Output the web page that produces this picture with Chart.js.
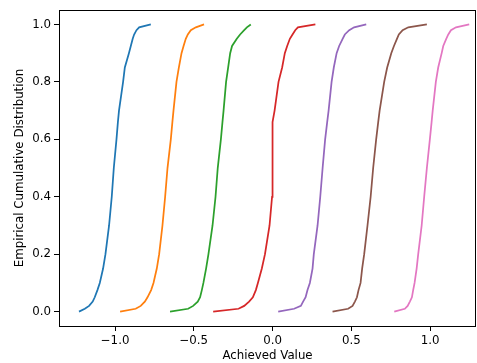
<!DOCTYPE html>
<html>
<head>
<meta charset="utf-8">
<script src="https://cdn.jsdelivr.net/npm/chart.js@4/dist/chart.umd.min.js"></script>
<style>
  html, body { margin: 0; padding: 0; background: #fff; }
  #wrap { width: 477px; height: 363px; }
</style>
</head>
<body>
<div id="wrap"><canvas id="ecdf"></canvas></div>
<script>
// cumulative probability levels shared by every curve
const probs = [0, 0.01, 0.02, 0.035, 0.05, 0.075, 0.1, 0.15, 0.2, 0.3, 0.4, 0.5, 0.6, 0.66, 0.7, 0.8, 0.85, 0.9, 0.925, 0.95, 0.965, 0.98, 0.99, 1.0];

// achieved value at each level, one array per run
const run1 = [-1.229, -1.192, -1.165, -1.142, -1.129, -1.112, -1.097, -1.076, -1.061, -1.038, -1.021, -1.008, -0.991, -0.982, -0.975, -0.949, -0.938, -0.912, -0.900, -0.888, -0.879, -0.864, -0.847, -0.773];
const run2 = [-0.968, -0.869, -0.837, -0.811, -0.794, -0.771, -0.756, -0.735, -0.720, -0.699, -0.682, -0.667, -0.646, -0.636, -0.629, -0.610, -0.595, -0.578, -0.565, -0.551, -0.538, -0.519, -0.487, -0.435];
const run3 = [-0.651, -0.536, -0.504, -0.475, -0.460, -0.449, -0.439, -0.422, -0.407, -0.381, -0.362, -0.348, -0.328, -0.318, -0.311, -0.295, -0.282, -0.269, -0.257, -0.227, -0.206, -0.180, -0.163, -0.138];
const run4 = [-0.377, -0.216, -0.180, -0.149, -0.125, -0.106, -0.093, -0.068, -0.048, -0.019, -0.003, 0.0, 0.0, 0.0, 0.013, 0.038, 0.061, 0.078, 0.093, 0.110, 0.127, 0.144, 0.161, 0.272];
const run5 = [0.036, 0.137, 0.180, 0.194, 0.210, 0.222, 0.237, 0.254, 0.262, 0.286, 0.303, 0.318, 0.334, 0.347, 0.356, 0.375, 0.389, 0.407, 0.423, 0.445, 0.459, 0.487, 0.518, 0.595];
const run6 = [0.381, 0.480, 0.508, 0.523, 0.536, 0.546, 0.559, 0.569, 0.582, 0.603, 0.623, 0.639, 0.658, 0.671, 0.680, 0.709, 0.728, 0.754, 0.771, 0.790, 0.802, 0.826, 0.862, 0.980];
const run7 = [0.773, 0.840, 0.858, 0.872, 0.885, 0.893, 0.902, 0.915, 0.925, 0.947, 0.963, 0.980, 0.999, 1.010, 1.017, 1.037, 1.052, 1.074, 1.084, 1.103, 1.116, 1.133, 1.165, 1.249];

const runs = [run1, run2, run3, run4, run5, run6, run7];
const colors = ['#1f77b4', '#ff7f0e', '#2ca02c', '#d62728', '#9467bd', '#8c564b', '#e377c2'];

const xTicks = [-1.0, -0.5, 0.0, 0.5, 1.0];
const yTicks = [0.0, 0.2, 0.4, 0.6, 0.8, 1.0];

const fmt = v => (v < 0 ? '\u2212' : '') + Math.abs(v).toFixed(1);

// full box around the axes
const frame = {
    id: 'frame',
    afterDraw(chart) {
        const { ctx, chartArea: a } = chart;
        ctx.save();
        ctx.strokeStyle = '#000';
        ctx.lineWidth = 1;
        ctx.strokeRect(Math.round(a.left) + 0.5, Math.round(a.top) + 0.5,
            Math.round(a.right - a.left) - 1, Math.round(a.bottom - a.top));
        ctx.restore();
    }
};

const font = { family: 'DejaVu Sans', size: 11.8 };

new Chart(document.getElementById('ecdf'), {
    type: 'scatter',
    data: {
        datasets: runs.map((xs, i) => ({
            data: xs.map((x, j) => ({ x: x, y: probs[j] })),
            showLine: true,
            borderColor: colors[i],
            borderWidth: 1.75,
            pointRadius: 0,
            fill: false,
            tension: 0,
        }))
    },
    options: {
        responsive: true,
        maintainAspectRatio: false,
        animation: false,
        devicePixelRatio: 1,
        layout: { padding: { top: 7, right: 1, left: 0, bottom: 0 } },
        plugins: {
            legend: { display: false },
            tooltip: { enabled: false },
        },
        scales: {
            x: {
                type: 'linear',
                min: -1.356,
                max: 1.292,
                afterBuildTicks: s => { s.ticks = xTicks.map(v => ({ value: v })); },
                afterFit: s => { s.height = 37; },
                grid: { drawOnChartArea: false, drawTicks: true, tickLength: 5, color: '#000' },
                border: { display: false },
                ticks: { color: '#000', font, padding: 3, maxRotation: 0, callback: v => fmt(v) },
                title: { display: true, text: 'Achieved Value', color: '#000', font, padding: { top: 0, bottom: 0 } },
            },
            y: {
                type: 'linear',
                min: -0.05,
                max: 1.05,
                afterBuildTicks: s => { s.ticks = yTicks.map(v => ({ value: v })); },
                afterFit: s => { s.width = 59; },
                grid: { drawOnChartArea: false, drawTicks: true, tickLength: 5, color: '#000' },
                border: { display: false },
                ticks: { color: '#000', font, padding: 3, callback: v => fmt(v) },
                title: { display: true, text: 'Empirical Cumulative Distribution', color: '#000', font, padding: { top: 13, bottom: 0 } },
            }
        }
    },
    plugins: [frame]
});
</script>
</body>
</html>
